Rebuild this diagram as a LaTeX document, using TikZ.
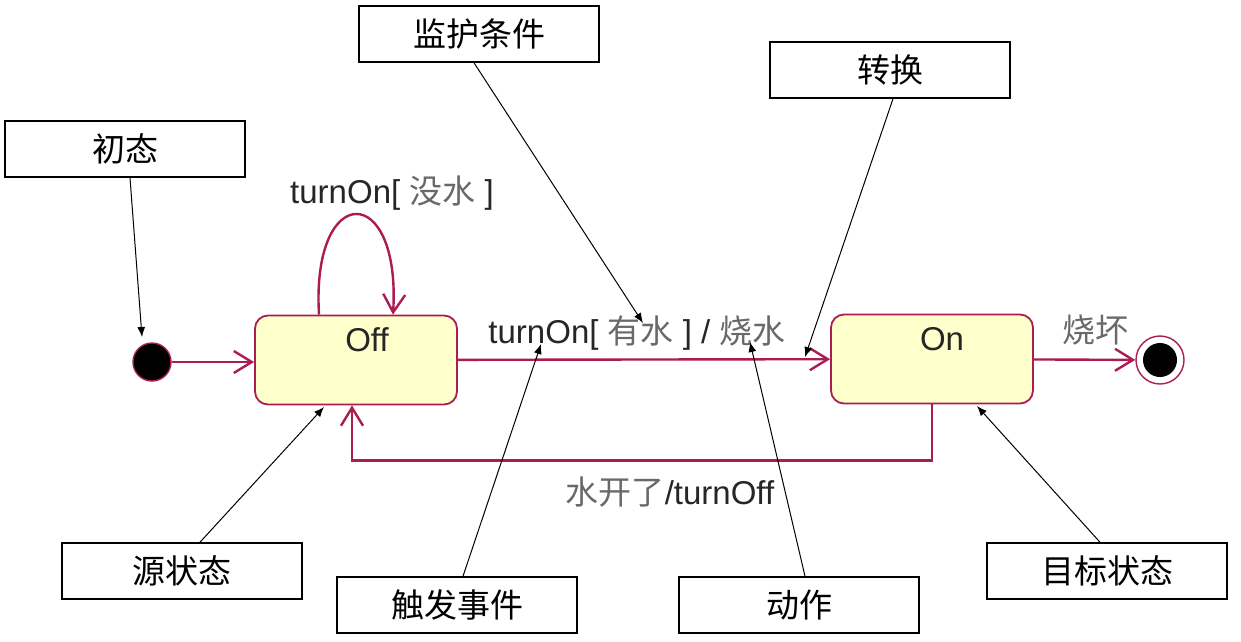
\documentclass[tikz,border=0pt]{standalone}
\usepackage{fontspec}
\setmainfont{Liberation Sans}
\newfontfamily\cjk{Noto Sans CJK SC}
\usepackage{xcolor}
\usetikzlibrary{arrows.meta,positioning}
\definecolor{stateline}{RGB}{170,28,82}
\definecolor{statefill}{RGB}{255,255,204}
\definecolor{guardgray}{RGB}{105,105,105}
\tikzset{
  statebox/.style={rectangle, draw=stateline, line width=1.8pt, rounded corners=13pt,
                   fill=statefill, minimum width=202pt, minimum height=89pt,
                   text height=24pt, text depth=42pt,
                   font=\fontsize{33}{38}\selectfont, text=black!85},
  initstate/.style={circle, draw=stateline, line width=1.4pt, fill=black, minimum size=38pt, inner sep=0pt},
  finalstate/.style={circle, draw=stateline, line width=1.4pt, fill=white, minimum size=48pt, inner sep=0pt,
                     path picture={\fill[black] (path picture bounding box.center) circle (17pt);}},
  notebox/.style={rectangle, draw=black, line width=1.6pt, fill=white,
                  minimum width=240pt, minimum height=56pt,
                  font=\fontsize{33}{38}\selectfont\cjk},
  trans/.style={-{Straight Barb[length=18pt,width=22pt]}, draw=stateline, line width=2.4pt},
  note/.style={-{Latex[length=10pt,width=8pt]}, draw=black, line width=1pt},
  tlabel/.style={font=\fontsize{33}{38}\selectfont, text=black!85, inner sep=0pt},
}
\newcommand{\zh}[1]{{\color{guardgray}\cjk #1}}

\begin{document}
\begin{tikzpicture}[x=1pt, y=-1pt]
  \useasboundingbox (0,0) rectangle (1241,641);
  % states
  \node[initstate]  (init)  at (152,362) {};
  \node[statebox]   (off)   at (356,360) {\hspace*{22pt}Off};
  \node[statebox]   (on)    at (932,359) {\hspace*{20pt}On};
  \node[finalstate] (final) at (1160,360) {};
  % transitions
  \draw[trans] (init) -- (init -| off.west);
  \draw[trans] (off) -- (on);
  \draw[trans] (on) -- (final);
  \draw[trans] ([xshift=-37pt]off.north) .. controls (311,181) and (401,181) .. ([xshift=37pt]off.north);
  \draw[trans] (on.south) -- ++(0,56) -| ([xshift=-4pt]off.south);
  % transition labels
  \node[tlabel] (lblloop)  at (392,193)  {turnOn[ \zh{没水} ]};
  \node[tlabel] (lblwater) at (637,333)  {turnOn[ \zh{有水} ] / \zh{烧水}};
  \node[tlabel] (lblboil)  at (670,492)  {\zh{水开了}/turnOff};
  \node[tlabel] (lblburn)  at (1095,330) {\zh{烧坏}};
  % annotation boxes
  \node[notebox] (ninit)  at (125,149)  {初态};
  \node[notebox] (nguard) at (479,34)   {监护条件};
  \node[notebox] (nturn)  at (890,70)   {转换};
  \node[notebox] (nsrc)   at (182,571)  {源状态};
  \node[notebox] (ntrig)  at (457,605)  {触发事件};
  \node[notebox] (nact)   at (799,605)  {动作};
  \node[notebox] (ntgt)   at (1107,571) {目标状态};
  % annotation targets
  \coordinate (pinit)  at (142,337);
  \coordinate (pguard) at (643,323);
  \coordinate (pturn)  at (805,357);
  \coordinate (psrc)   at (324,407);
  \coordinate (ptrig)  at (541,344);
  \coordinate (pact)   at (750,342);
  \coordinate (ptgt)   at (977,406);
  \draw[note] ([xshift=5pt]ninit.south)   -- (pinit);
  \draw[note] ([xshift=-5pt]nguard.south) -- (pguard);
  \draw[note] ([xshift=3pt]nturn.south)   -- (pturn);
  \draw[note] ([xshift=18pt]nsrc.north)   -- (psrc);
  \draw[note] ([xshift=6pt]ntrig.north)   -- (ptrig);
  \draw[note] ([xshift=6pt]nact.north)    -- (pact);
  \draw[note] ([xshift=-7pt]ntgt.north)   -- (ptgt);
\end{tikzpicture}
\end{document}
